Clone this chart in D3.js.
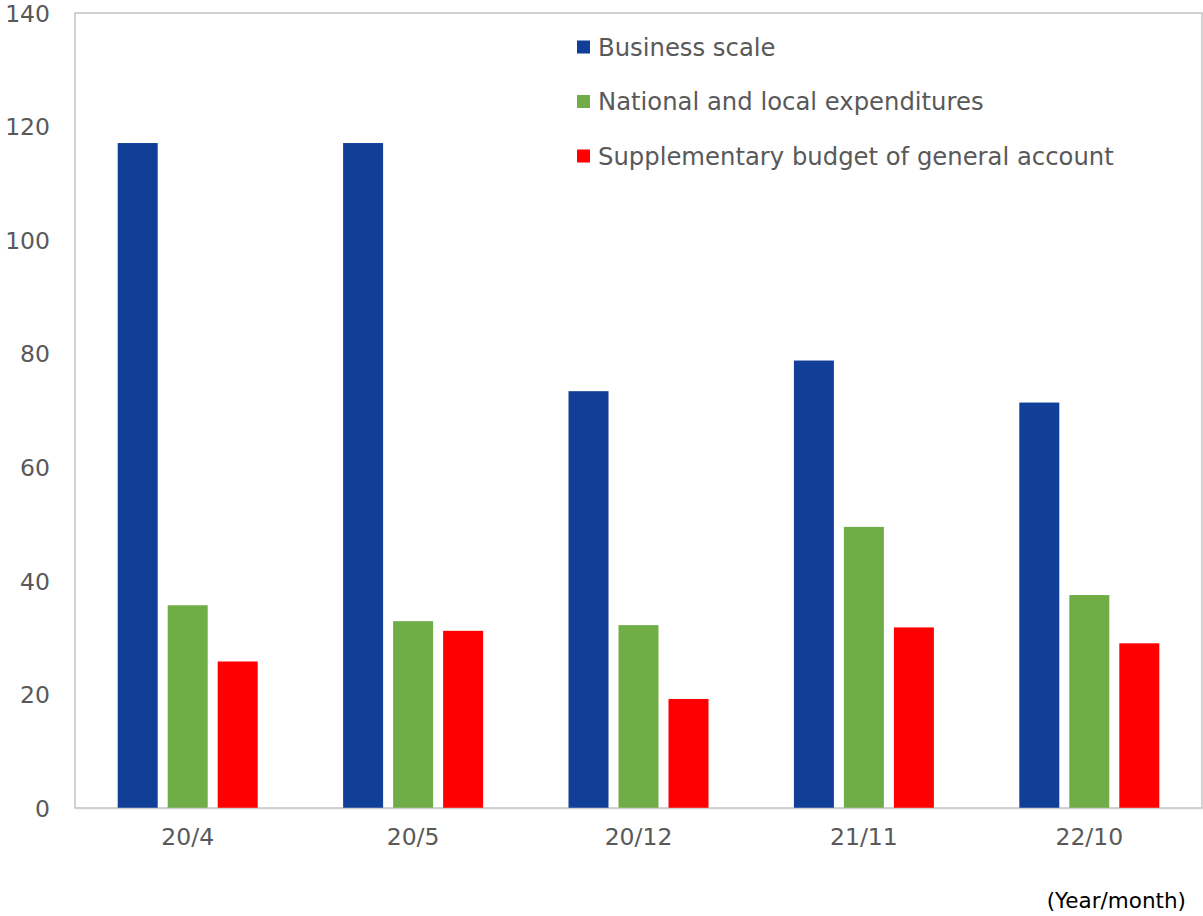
<!DOCTYPE html>
<html>
<head>
<meta charset="utf-8">
<script src="https://cdn.jsdelivr.net/npm/d3@7"></script>
<style>
  body { margin: 0; background: #fff; }
  svg text { font-family: "DejaVu Sans", Verdana, sans-serif; fill: #595959; }
</style>
</head>
<body>
<div id="chart"></div>
<script>
// data
var categories = ["20/4", "20/5", "20/12", "21/11", "22/10"];
var seriesNames = ["Business scale", "National and local expenditures", "Supplementary budget of general account"];
var businessScale = [117.1, 117.1, 73.4, 78.8, 71.4];
var nationalLocal = [35.7, 32.9, 32.2, 49.5, 37.5];
var supplementary = [25.8, 31.2, 19.2, 31.8, 29.0];
var colors = ["#113f98", "#70ad47", "#ff0000"];
var yTicks = [0, 20, 40, 60, 80, 100, 120, 140];

var series = [businessScale, nationalLocal, supplementary];

// set the dimensions and margins of the graph
var W = 1203, H = 916;
var margin = {top: 13, right: 1, bottom: 108, left: 75},
    width = W - margin.left - margin.right,
    height = H - margin.top - margin.bottom;

var svg = d3.select("#chart")
  .append("svg")
    .attr("width", W)
    .attr("height", H)
  .append("g")
    .attr("transform", "translate(" + margin.left + "," + margin.top + ")");

var x = d3.scaleBand()
  .domain(categories)
  .range([0, width]);

var y = d3.scaleLinear()
  .domain([0, 140])
  .range([height, 0]);

// inner scale for the three bars in a group
var barW = 40, gap = 10;
var xs = d3.scaleOrdinal()
  .domain(d3.range(series.length))
  .range(d3.range(series.length).map(function(i) { return i * (barW + gap) - (series.length * barW + (series.length - 1) * gap) / 2; }));

// plot frame
svg.append("rect")
  .attr("x", 0).attr("y", 0)
  .attr("width", width).attr("height", height)
  .attr("fill", "none")
  .attr("stroke", "#c4c4c4")
  .attr("stroke-width", 1.5);

// bars
series.forEach(function(vals, si) {
  svg.append("g")
    .selectAll("rect")
    .data(vals)
    .enter()
    .append("rect")
      .attr("x", function(d, i) { return x(categories[i]) + x.bandwidth() / 2 + xs(si); })
      .attr("y", function(d) { return y(d); })
      .attr("width", barW)
      .attr("height", function(d) { return height - y(d); })
      .attr("fill", colors[si]);
});

// Y axis
var yAxis = svg.append("g")
  .call(d3.axisLeft(y).tickValues(yTicks).tickSize(0).tickPadding(25));
yAxis.select(".domain").remove();
yAxis.selectAll("text").style("font-size", "23.5px").attr("dy", "0.35em");

// X axis
var xAxis = svg.append("g")
  .attr("transform", "translate(0," + height + ")")
  .call(d3.axisBottom(x).tickSize(0).tickPadding(20));
xAxis.select(".domain").attr("stroke", "#d0d0d0").attr("stroke-width", 1.5);
xAxis.selectAll("text").style("font-size", "23.5px");

// legend
var legend = svg.append("g")
  .attr("transform", "translate(502,34)");
seriesNames.forEach(function(name, i) {
  var row = legend.append("g").attr("transform", "translate(0," + (i * 54.5) + ")");
  row.append("rect")
    .attr("x", 0).attr("y", -6.5)
    .attr("width", 13).attr("height", 13)
    .attr("fill", colors[i]);
  row.append("text")
    .attr("x", 21)
    .attr("dy", "0.35em")
    .style("font-size", "24.3px")
    .text(name);
});

// unit note
svg.append("text")
  .attr("x", width - 16)
  .attr("y", height + 100)
  .attr("text-anchor", "end")
  .style("font-size", "21.5px")
  .style("fill", "#000")
  .text("(Year/month)");
</script>
</body>
</html>
